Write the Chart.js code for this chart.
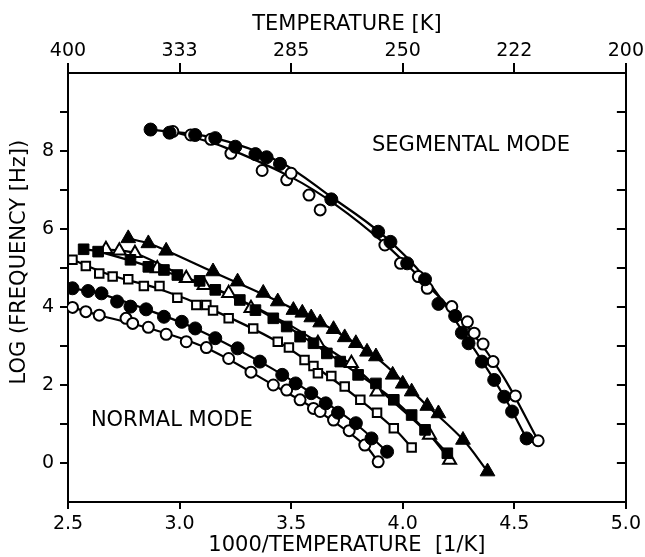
<!DOCTYPE html>
<html>
<head>
<meta charset="utf-8">
<script src="https://cdn.jsdelivr.net/npm/chart.js@4.4.0/dist/chart.umd.min.js"></script>
<style>
html,body{margin:0;padding:0;background:#fff;}
#wrap{width:645px;height:557px;position:relative;}
</style>
</head>
<body>
<div id="wrap"><canvas id="c" width="645" height="557"></canvas></div>
<script>
// ---- axis ticks / labels ----
const xTickValues = [2.5, 3.0, 3.5, 4.0, 4.5, 5.0];
const topTickLabels = ['400', '333', '285', '250', '222', '200'];
const yTickValues = [0, 1, 2, 3, 4, 5, 6, 7, 8, 9];
const yLabelValues = [0, 2, 4, 6, 8];

// ---- segmental mode ----
const segFilled = [[2.87,8.55],[2.955,8.47],[3.07,8.41],[3.16,8.33],[3.25,8.11],[3.34,7.92],[3.39,7.84],[3.45,7.67],[3.68,6.76],[3.89,5.93],[3.945,5.67],[4.02,5.12],[4.10,4.71],[4.16,4.08],[4.235,3.77],[4.265,3.34],[4.295,3.07],[4.355,2.60],[4.41,2.13],[4.455,1.70],[4.49,1.32],[4.555,0.63]];
const segOpen = [[2.97,8.50],[3.05,8.41],[3.14,8.30],[3.23,7.94],[3.37,7.50],[3.48,7.26],[3.50,7.43],[3.58,6.87],[3.63,6.49],[3.92,5.59],[3.99,5.12],[4.07,4.78],[4.11,4.48],[4.22,4.01],[4.29,3.62],[4.32,3.33],[4.36,3.05],[4.405,2.60],[4.505,1.72],[4.607,0.57]];
const segFilledFit = [[2.87,8.55],[3.16,8.33],[3.45,7.72],[3.68,6.82],[3.90,5.90],[4.10,4.75],[4.30,3.10],[4.45,1.75],[4.555,0.63]];
const segOpenFit = [[2.97,8.50],[3.20,8.10],[3.50,7.33],[3.70,6.62],[3.92,5.62],[4.10,4.62],[4.30,3.42],[4.45,2.22],[4.607,0.57]];

// ---- normal mode ----
const normFilledTri = [[2.77,5.76],[2.86,5.63],[2.94,5.44],[3.15,4.91],[3.26,4.65],[3.375,4.36],[3.44,4.14],[3.51,3.92],[3.55,3.85],[3.59,3.73],[3.63,3.60],[3.69,3.43],[3.74,3.22],[3.79,3.07],[3.84,2.85],[3.88,2.73],[3.955,2.26],[4.00,2.03],[4.04,1.83],[4.11,1.46],[4.16,1.27],[4.27,0.59],[4.38,-0.22]];
const normFilledSq = [[2.57,5.48],[2.635,5.42],[2.78,5.21],[2.86,5.03],[2.93,4.95],[2.99,4.82],[3.09,4.67],[3.16,4.44],[3.27,4.18],[3.34,3.92],[3.42,3.71],[3.48,3.50],[3.54,3.24],[3.60,3.07],[3.66,2.81],[3.72,2.60],[3.80,2.26],[3.88,2.04],[3.96,1.62],[4.04,1.23],[4.10,0.85],[4.20,0.25]];
const normOpenTri = [[2.67,5.48],[2.73,5.44],[2.80,5.38],[2.90,4.99],[3.03,4.74],[3.11,4.56],[3.22,4.35],[3.32,3.97],[3.62,3.07],[3.77,2.56],[3.885,1.83],[4.12,0.72],[4.21,0.08]];
const normOpenSq = [[2.52,5.21],[2.58,5.05],[2.64,4.86],[2.70,4.78],[2.77,4.71],[2.84,4.54],[2.91,4.54],[2.99,4.24],[3.075,4.05],[3.12,4.05],[3.15,3.91],[3.22,3.71],[3.33,3.45],[3.44,3.11],[3.49,2.96],[3.56,2.64],[3.60,2.49],[3.62,2.30],[3.68,2.23],[3.74,1.96],[3.81,1.62],[3.885,1.29],[3.96,0.89],[4.04,0.40]];
const normFilledCirc = [[2.52,4.48],[2.59,4.41],[2.65,4.35],[2.72,4.14],[2.78,4.01],[2.85,3.94],[2.93,3.75],[3.01,3.62],[3.07,3.45],[3.16,3.20],[3.26,2.94],[3.36,2.60],[3.46,2.26],[3.52,2.04],[3.59,1.79],[3.655,1.53],[3.71,1.29],[3.79,1.02],[3.86,0.63],[3.93,0.29]];
const normOpenCirc = [[2.52,3.99],[2.58,3.88],[2.64,3.79],[2.76,3.71],[2.79,3.58],[2.86,3.48],[2.94,3.30],[3.03,3.11],[3.12,2.96],[3.22,2.68],[3.32,2.33],[3.42,2.00],[3.48,1.87],[3.54,1.62],[3.60,1.40],[3.63,1.32],[3.69,1.10],[3.76,0.83],[3.83,0.46],[3.89,0.03]];

const normFilledTriFit = [[2.77,5.76],[2.86,5.63],[2.94,5.45],[3.15,4.90],[3.44,4.15],[3.70,3.38],[3.90,2.62],[4.10,1.52],[4.27,0.60],[4.38,-0.22]];
const normFilledSqFit = [[2.57,5.48],[2.64,5.42],[2.93,4.92],[3.20,4.36],[3.42,3.72],[3.60,3.06],[3.80,2.28],[3.96,1.62],[4.10,0.85],[4.20,0.25]];
const normOpenTriFit = [[2.67,5.48],[2.80,5.38],[3.03,4.76],[3.22,4.32],[3.48,3.58],[3.62,3.09],[3.77,2.52],[3.90,1.86],[4.12,0.72],[4.21,0.08]];
const normOpenSqFit = [[2.52,5.21],[2.70,4.80],[2.90,4.48],[3.15,3.92],[3.44,3.11],[3.60,2.50],[3.80,1.66],[3.96,0.89],[4.04,0.40]];
const normFilledCircFit = [[2.52,4.48],[2.65,4.33],[2.85,3.94],[3.07,3.45],[3.36,2.60],[3.59,1.80],[3.79,1.00],[3.93,0.29]];
const normOpenCircFit = [[2.52,3.99],[2.64,3.79],[2.86,3.46],[3.12,2.95],[3.42,2.00],[3.63,1.30],[3.83,0.46],[3.89,0.03]];

// ---- text ----
const notes = [
  {text: 'SEGMENTAL MODE', x: 4.306, y: 8.13},
  {text: 'NORMAL MODE', x: 2.965, y: 1.08}
];
const yTitle = 'LOG (FREQUENCY [Hz])';
const yTitleAt = {y: 5.15};
const xTitle = '1000/TEMPERATURE  [1/K]';
const topTitle = 'TEMPERATURE [K]';

const FONT = "'DejaVu Sans', 'Liberation Sans', sans-serif";
const toXY = arr => arr.map(p => ({x: p[0], y: p[1]}));

function fitLine(arr) {
  return {data: toXY(arr), showLine: true, borderColor: '#000', borderWidth: 2.2,
          pointRadius: 0, tension: 0.35, fill: false, order: 2};
}
function marks(arr, style, filled, r) {
  return {data: toXY(arr), showLine: false, pointStyle: style, pointRadius: r,
          backgroundColor: filled ? '#000' : '#fff', borderColor: '#000',
          borderWidth: filled ? 1 : 2, order: 1};
}

const decor = {
  id: 'decor',
  afterDraw(chart) {
    const {ctx, chartArea} = chart;
    const x = chart.scales.x, y = chart.scales.y;
    ctx.save();
    ctx.strokeStyle = '#000';
    ctx.lineWidth = 2;
    yTickValues.forEach(v => {
      const py = y.getPixelForValue(v);
      ctx.beginPath();
      ctx.moveTo(chartArea.right, py);
      ctx.lineTo(chartArea.right - 9, py);
      ctx.stroke();
    });
    ctx.fillStyle = '#000';
    ctx.font = '21px ' + FONT;
    ctx.textAlign = 'center';
    ctx.textBaseline = 'middle';
    notes.forEach(n => ctx.fillText(n.text, x.getPixelForValue(n.x), y.getPixelForValue(n.y)));
    ctx.translate(20, y.getPixelForValue(yTitleAt.y));
    ctx.rotate(-Math.PI / 2);
    ctx.fillText(yTitle, 0, 0);
    ctx.restore();
  }
};

const tickFont = {family: FONT, size: 19};
const titleFont = {family: FONT, size: 21};
const axisGrid = len => ({drawOnChartArea: false, drawTicks: true, tickLength: len, color: '#000', lineWidth: 2});
const axisBorder = {display: true, color: '#000', width: 2};

new Chart(document.getElementById('c'), {
  type: 'scatter',
  data: {
    datasets: [
      fitLine(segFilledFit), fitLine(segOpenFit),
      fitLine(normFilledTriFit), fitLine(normFilledSqFit), fitLine(normOpenTriFit),
      fitLine(normOpenSqFit), fitLine(normFilledCircFit), fitLine(normOpenCircFit),
      marks(segFilled, 'circle', true, 6.5),
      marks(segOpen, 'circle', false, 5.5),
      marks(normFilledTri, 'triangle', true, 8.5),
      marks(normFilledSq, 'rect', true, 7.5),
      marks(normOpenTri, 'triangle', false, 7.5),
      marks(normOpenSq, 'rect', false, 6),
      marks(normFilledCirc, 'circle', true, 6.5),
      marks(normOpenCirc, 'circle', false, 5.5)
    ]
  },
  options: {
    responsive: false,
    animation: false,
    devicePixelRatio: 1,
    layout: {padding: 0},
    plugins: {legend: {display: false}, tooltip: {enabled: false}},
    scales: {
      x: {
        type: 'linear', position: 'bottom', min: 2.5, max: 5,
        afterBuildTicks: s => { s.ticks = xTickValues.map(v => ({value: v})); },
        afterFit: s => { s.height = 55; },
        ticks: {callback: v => v.toFixed(1), font: tickFont, color: '#000', padding: 4, maxRotation: 0, autoSkip: false},
        grid: axisGrid(7), border: axisBorder,
        title: {display: true, text: xTitle, font: titleFont, color: '#000', padding: {top: 0, bottom: -1}}
      },
      x2: {
        type: 'linear', position: 'top', min: 2.5, max: 5,
        afterBuildTicks: s => { s.ticks = xTickValues.map(v => ({value: v})); },
        afterFit: s => { s.height = 73; },
        ticks: {callback: (v, i) => topTickLabels[i], font: tickFont, color: '#000', padding: 1, maxRotation: 0, autoSkip: false},
        grid: axisGrid(10), border: axisBorder,
        title: {display: true, text: topTitle, font: titleFont, color: '#000', padding: {top: 12, bottom: 0}}
      },
      y: {
        type: 'linear', position: 'left', min: -1, max: 10,
        afterBuildTicks: s => { s.ticks = yTickValues.map(v => ({value: v})); },
        afterFit: s => { s.width = 68; },
        ticks: {callback: v => yLabelValues.includes(v) ? String(v) : '', font: tickFont, color: '#000', padding: 6, autoSkip: false},
        grid: axisGrid(8), border: axisBorder
      },
      y2: {
        type: 'linear', position: 'right', min: -1, max: 10,
        afterFit: s => { s.width = 17; },
        ticks: {display: false},
        grid: {drawOnChartArea: false, drawTicks: false},
        border: axisBorder
      }
    }
  },
  plugins: [decor]
});
</script>
</body>
</html>
